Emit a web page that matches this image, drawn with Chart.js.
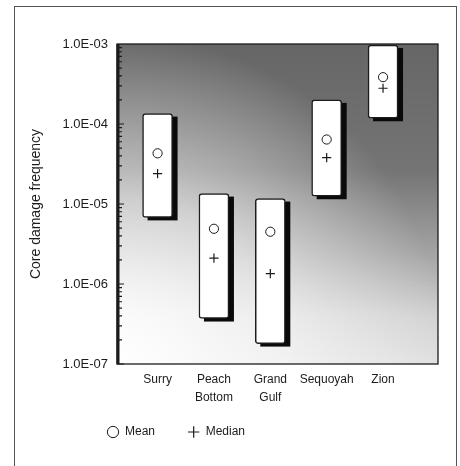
<!DOCTYPE html>
<html>
<head>
<meta charset="utf-8">
<script src="https://cdn.jsdelivr.net/npm/chart.js@4.4.1/dist/chart.umd.min.js"></script>
<style>
  html, body { margin: 0; padding: 0; background: #fff; }
  #wrap  { position: relative; width: 460px; height: 466px; overflow: hidden; }
  #frame { position: absolute; left: 14px; top: 6px; width: 443px; height: 480px;
           border: 1.5px solid #555; box-sizing: border-box; }
  canvas { position: absolute; left: 0; top: 0; }
</style>
</head>
<body>
<div id="wrap">
  <div id="frame"></div>
  <canvas id="chart" width="460" height="466"></canvas>
</div>
<script>
/* ── data ───────────────────────────────────────────────────────────────── */
const sites       = [['Surry'], ['Peach', 'Bottom'], ['Grand', 'Gulf'], ['Sequoyah'], ['Zion']];
const sitePos     = [1, 2, 3, 4, 5];
const boxLow      = [6.8e-6, 3.7e-7, 1.8e-7, 1.25e-5, 1.18e-4];
const boxHigh     = [1.35e-4, 1.35e-5, 1.17e-5, 2.0e-4, 9.7e-4];
const meanVals    = [4.3e-5, 4.9e-6, 4.5e-6, 6.4e-5, 3.85e-4];
const medianVals  = [2.4e-5, 2.1e-6, 1.35e-6, 3.8e-5, 2.8e-4];
const yTickValues = [1e-7, 1e-6, 1e-5, 1e-4, 1e-3];
const yTickLabels = ['1.0E-07', '1.0E-06', '1.0E-05', '1.0E-04', '1.0E-03'];

const FONT = "'Liberation Sans', Arial, sans-serif";
const INK  = '#1c1c1c';
const BOX  = 2;   // dataset index of the boxes

/* ── plugins ────────────────────────────────────────────────────────────── */
// dark shaded field behind the boxes, plus the plot frame and inner ticks
const plotField = {
  id: 'plotField',
  beforeDatasetsDraw(chart) {
    const { ctx, chartArea: a } = chart;
    ctx.save();
    const v = ctx.createLinearGradient(0, a.top, 0, a.bottom);
    v.addColorStop(0,    'rgba(0,0,0,0.60)');
    v.addColorStop(0.4,  'rgba(0,0,0,0.54)');
    v.addColorStop(0.65, 'rgba(0,0,0,0.36)');
    v.addColorStop(0.85, 'rgba(0,0,0,0.18)');
    v.addColorStop(1,    'rgba(0,0,0,0.12)');
    ctx.fillStyle = v;
    ctx.fillRect(a.left, a.top, a.width, a.height);
    const r = ctx.createRadialGradient(a.left, a.bottom, 0, a.left, a.bottom, 330);
    r.addColorStop(0,   'rgba(255,255,255,1)');
    r.addColorStop(0.5, 'rgba(255,255,255,0.6)');
    r.addColorStop(1,   'rgba(255,255,255,0)');
    ctx.fillStyle = r;
    ctx.fillRect(a.left, a.top, a.width, a.height);
    ctx.restore();
  },
  afterDatasetsDraw(chart) {
    const { ctx, chartArea: a, scales } = chart;
    const y = scales.y;
    ctx.save();
    ctx.strokeStyle = INK;
    ctx.lineWidth = 1.3;
    ctx.strokeRect(a.left, a.top, a.width, a.height);
    ctx.lineWidth = 3;
    ctx.beginPath();
    ctx.moveTo(a.left + 1, a.top);
    ctx.lineTo(a.left + 1, a.bottom);
    ctx.stroke();
    ctx.lineWidth = 1.2;
    ctx.beginPath();
    for (let e = -7; e < -3; e++) {
      for (let m = 1; m < 10; m++) {
        const py = y.getPixelForValue(m * Math.pow(10, e));
        ctx.moveTo(a.left, py);
        ctx.lineTo(a.left + (m === 1 ? 7 : 5), py);
      }
    }
    ctx.stroke();
    ctx.restore();
  },
};

// black drop shadow to the lower right of every box, drawn from the bar elements
const boxShadow = {
  id: 'boxShadow',
  beforeDatasetDraw(chart, args) {
    if (args.index !== BOX) return;
    const ctx = chart.ctx;
    ctx.save();
    ctx.fillStyle = '#0a0a0a';
    args.meta.data.forEach(el => {
      const { x, y, base, width } = el.getProps(['x', 'y', 'base', 'width'], true);
      ctx.fillRect(x - width / 2 + 5, Math.min(y, base) + 3, width, Math.abs(base - y));
    });
    ctx.restore();
  },
};

// legend sits under the axis, a little left of the plot edge
const legendNudge = {
  id: 'legendNudge',
  afterLayout(chart) {
    const lg = chart.legend;
    lg.left -= 26;
    lg.right -= 26;
  },
};

/* ── chart ──────────────────────────────────────────────────────────────── */
const pts = vals => sitePos.map((x, i) => ({ x, y: vals[i] }));

new Chart(document.getElementById('chart'), {
  type: 'bar',
  data: {
    datasets: [
      {
        type: 'line', label: 'Mean', data: pts(meanVals), showLine: false,
        pointStyle: 'circle', pointRadius: 4.6, pointBorderWidth: 1,
        pointBackgroundColor: '#fff', pointBorderColor: INK,
      },
      {
        type: 'line', label: 'Median', data: pts(medianVals), showLine: false,
        pointStyle: 'cross', pointRadius: 4.6, pointBorderWidth: 1.2,
        pointBackgroundColor: INK, pointBorderColor: INK,
      },
      {
        label: 'Range',
        data: sitePos.map((x, i) => ({ x, y: [boxLow[i], boxHigh[i]] })),
        backgroundColor: '#fff', borderColor: INK, borderWidth: 1.5,
        borderRadius: 3, borderSkipped: false, barThickness: 30,
      },
    ],
  },
  options: {
    responsive: false,
    animation: false,
    events: [],
    layout: { padding: { left: 26, right: 22, top: 44, bottom: 18 } },
    scales: {
      x: {
        type: 'linear', min: 0.28, max: 5.975, offset: false,
        grid: { display: false, drawTicks: false }, border: { display: false },
        afterBuildTicks: s => { s.ticks = sitePos.map(v => ({ value: v })); },
        afterFit: s => { s.height = 46; },
        ticks: {
          autoSkip: false, maxRotation: 0, padding: 7, color: INK,
          font: { family: FONT, size: 12, lineHeight: 1.5 },
          callback: v => sites[sitePos.indexOf(v)],
        },
      },
      y: {
        type: 'logarithmic', min: 1e-7, max: 1e-3,
        grid: { display: false, drawTicks: false }, border: { display: false },
        afterBuildTicks: s => { s.ticks = yTickValues.map(v => ({ value: v })); },
        afterFit: s => { s.width = 91; },
        ticks: {
          autoSkip: false, padding: 9, color: INK,
          font: { family: FONT, size: 13 },
          callback: (v, i) => yTickLabels[i],
        },
        title: {
          display: true, text: 'Core damage frequency', color: INK,
          font: { family: FONT, size: 14 }, padding: { top: 2, bottom: 0 },
        },
      },
    },
    plugins: {
      tooltip: { enabled: false },
      legend: {
        position: 'bottom', align: 'start', fullSize: false,
        labels: {
          usePointStyle: true, boxWidth: 12, boxHeight: 8, padding: 16,
          color: INK, font: { family: FONT, size: 12 },
          filter: item => item.datasetIndex !== BOX,
          // widen the first entry so "+ Median" lands where the figure has it
          generateLabels: chart => Chart.defaults.plugins.legend.labels.generateLabels(chart)
            .map(item => item.datasetIndex === 0 ? { ...item, text: item.text + '     ' } : item),
        },
      },
    },
  },
  plugins: [plotField, boxShadow, legendNudge],
});
</script>
</body>
</html>
